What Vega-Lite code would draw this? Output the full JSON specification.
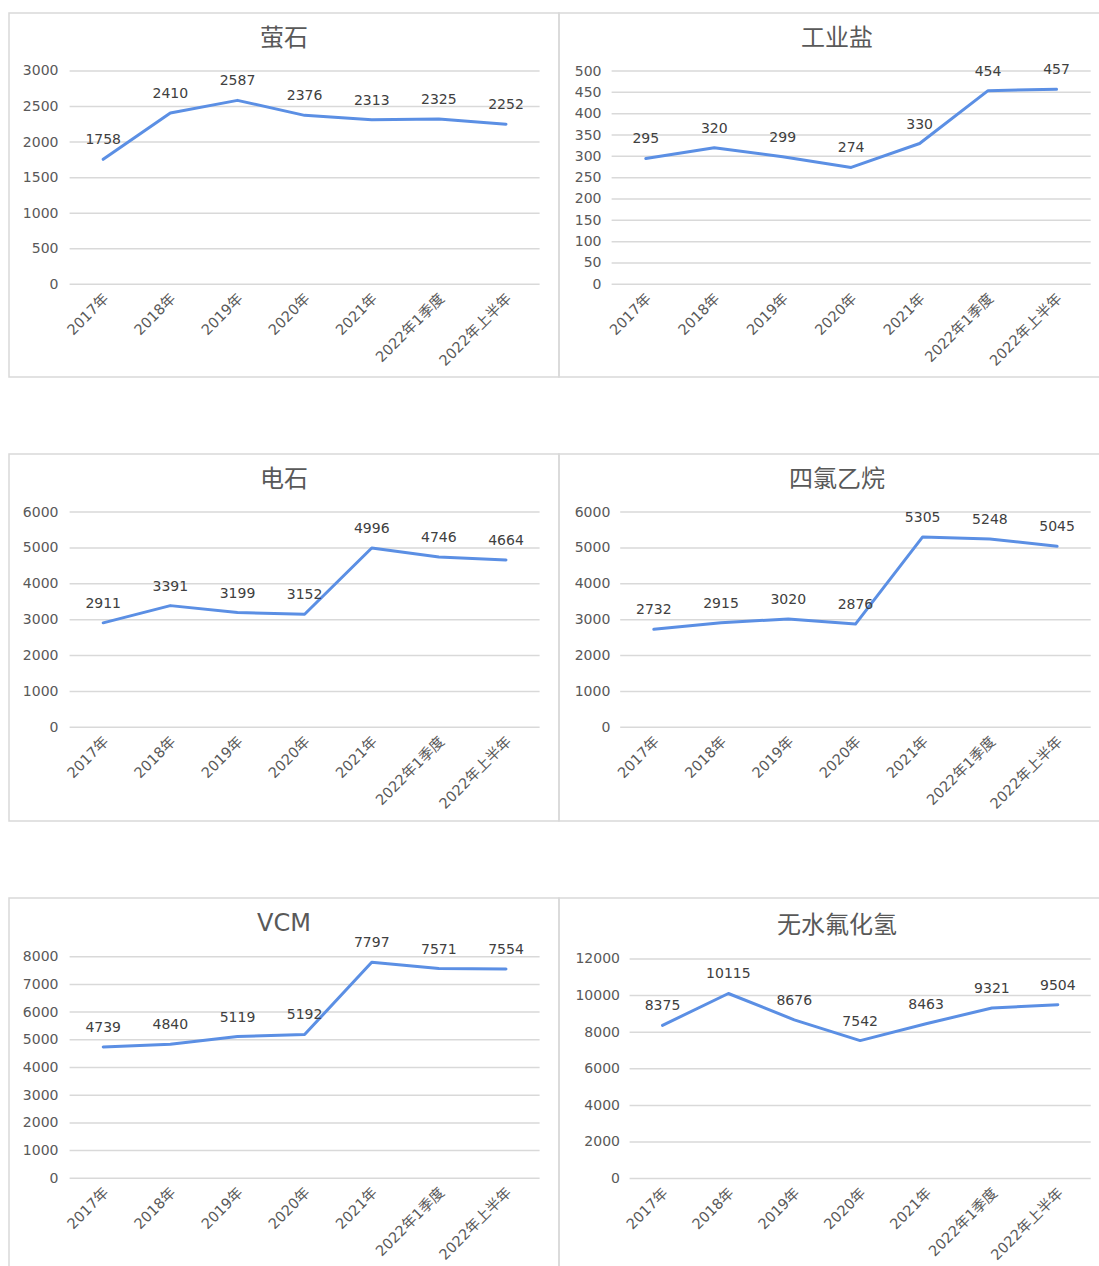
{
  "$schema": "https://vega.github.io/schema/vega-lite/v6.json",
  "background": "white",
  "padding": {"left": 8, "top": 12, "right": 0, "bottom": 0},
  "config": {
    "view": {"stroke": "#d9d9d9", "strokeWidth": 1.5},
    "font": "DejaVu Sans, Noto Sans CJK SC",
    "title": {"font": "DejaVu Sans, Noto Sans CJK SC", "fontSize": 24, "fontWeight": "normal", "color": "#595959", "anchor": "middle", "frame": "group", "offset": 0, "baseline": "middle"},
    "axis": {"labelFont": "DejaVu Sans, Noto Sans CJK SC", "labelFontSize": 14, "labelColor": "#595959", "ticks": false, "tickSize": 0, "domain": false, "grid": false, "labelPadding": 0, "labelOverlap": false, "labelBound": false, "labelFlush": false, "title": null},
    "axisX": {"labelAngle": -45, "labelAlign": "right", "labelBaseline": "top", "labelPadding": 7, "labelOffset": -2, "labelFontSize": 14.5},
    "axisY": {"labelAlign": "right", "labelBaseline": "middle", "format": "d"},
    "line": {"stroke": "#5B8FE4", "strokeWidth": 3, "strokeJoin": "round", "strokeCap": "round"},
    "text": {"font": "DejaVu Sans, Noto Sans CJK SC", "fontSize": 14, "fill": "#404040", "baseline": "middle", "align": "center"}
  },
  "datasets": {
    "series": [
      {"panel": "萤石", "period": "2017年", "value": 1758},
      {"panel": "萤石", "period": "2018年", "value": 2410},
      {"panel": "萤石", "period": "2019年", "value": 2587},
      {"panel": "萤石", "period": "2020年", "value": 2376},
      {"panel": "萤石", "period": "2021年", "value": 2313},
      {"panel": "萤石", "period": "2022年1季度", "value": 2325},
      {"panel": "萤石", "period": "2022年上半年", "value": 2252},
      {"panel": "工业盐", "period": "2017年", "value": 295},
      {"panel": "工业盐", "period": "2018年", "value": 320},
      {"panel": "工业盐", "period": "2019年", "value": 299},
      {"panel": "工业盐", "period": "2020年", "value": 274},
      {"panel": "工业盐", "period": "2021年", "value": 330},
      {"panel": "工业盐", "period": "2022年1季度", "value": 454},
      {"panel": "工业盐", "period": "2022年上半年", "value": 457},
      {"panel": "电石", "period": "2017年", "value": 2911},
      {"panel": "电石", "period": "2018年", "value": 3391},
      {"panel": "电石", "period": "2019年", "value": 3199},
      {"panel": "电石", "period": "2020年", "value": 3152},
      {"panel": "电石", "period": "2021年", "value": 4996},
      {"panel": "电石", "period": "2022年1季度", "value": 4746},
      {"panel": "电石", "period": "2022年上半年", "value": 4664},
      {"panel": "四氯乙烷", "period": "2017年", "value": 2732},
      {"panel": "四氯乙烷", "period": "2018年", "value": 2915},
      {"panel": "四氯乙烷", "period": "2019年", "value": 3020},
      {"panel": "四氯乙烷", "period": "2020年", "value": 2876},
      {"panel": "四氯乙烷", "period": "2021年", "value": 5305},
      {"panel": "四氯乙烷", "period": "2022年1季度", "value": 5248},
      {"panel": "四氯乙烷", "period": "2022年上半年", "value": 5045},
      {"panel": "VCM", "period": "2017年", "value": 4739},
      {"panel": "VCM", "period": "2018年", "value": 4840},
      {"panel": "VCM", "period": "2019年", "value": 5119},
      {"panel": "VCM", "period": "2020年", "value": 5192},
      {"panel": "VCM", "period": "2021年", "value": 7797},
      {"panel": "VCM", "period": "2022年1季度", "value": 7571},
      {"panel": "VCM", "period": "2022年上半年", "value": 7554},
      {"panel": "无水氟化氢", "period": "2017年", "value": 8375},
      {"panel": "无水氟化氢", "period": "2018年", "value": 10115},
      {"panel": "无水氟化氢", "period": "2019年", "value": 8676},
      {"panel": "无水氟化氢", "period": "2020年", "value": 7542},
      {"panel": "无水氟化氢", "period": "2021年", "value": 8463},
      {"panel": "无水氟化氢", "period": "2022年1季度", "value": 9321},
      {"panel": "无水氟化氢", "period": "2022年上半年", "value": 9504}
    ],
    "ticks": [
      {"panel": "萤石", "tick": 0}, {"panel": "萤石", "tick": 500}, {"panel": "萤石", "tick": 1000}, {"panel": "萤石", "tick": 1500}, {"panel": "萤石", "tick": 2000}, {"panel": "萤石", "tick": 2500}, {"panel": "萤石", "tick": 3000},
      {"panel": "工业盐", "tick": 0}, {"panel": "工业盐", "tick": 50}, {"panel": "工业盐", "tick": 100}, {"panel": "工业盐", "tick": 150}, {"panel": "工业盐", "tick": 200}, {"panel": "工业盐", "tick": 250}, {"panel": "工业盐", "tick": 300}, {"panel": "工业盐", "tick": 350}, {"panel": "工业盐", "tick": 400}, {"panel": "工业盐", "tick": 450}, {"panel": "工业盐", "tick": 500},
      {"panel": "电石", "tick": 0}, {"panel": "电石", "tick": 1000}, {"panel": "电石", "tick": 2000}, {"panel": "电石", "tick": 3000}, {"panel": "电石", "tick": 4000}, {"panel": "电石", "tick": 5000}, {"panel": "电石", "tick": 6000},
      {"panel": "四氯乙烷", "tick": 0}, {"panel": "四氯乙烷", "tick": 1000}, {"panel": "四氯乙烷", "tick": 2000}, {"panel": "四氯乙烷", "tick": 3000}, {"panel": "四氯乙烷", "tick": 4000}, {"panel": "四氯乙烷", "tick": 5000}, {"panel": "四氯乙烷", "tick": 6000},
      {"panel": "VCM", "tick": 0}, {"panel": "VCM", "tick": 1000}, {"panel": "VCM", "tick": 2000}, {"panel": "VCM", "tick": 3000}, {"panel": "VCM", "tick": 4000}, {"panel": "VCM", "tick": 5000}, {"panel": "VCM", "tick": 6000}, {"panel": "VCM", "tick": 7000}, {"panel": "VCM", "tick": 8000},
      {"panel": "无水氟化氢", "tick": 0}, {"panel": "无水氟化氢", "tick": 2000}, {"panel": "无水氟化氢", "tick": 4000}, {"panel": "无水氟化氢", "tick": 6000}, {"panel": "无水氟化氢", "tick": 8000}, {"panel": "无水氟化氢", "tick": 10000}, {"panel": "无水氟化氢", "tick": 12000}
    ]
  },
  "columns": 2,
  "spacing": {"row": 77, "column": 0},
  "bounds": "flush",
  "concat": [
    {
      "width": 550, "height": 364,
      "title": {"text": "萤石", "dy": 42},
      "layer": [
        {
          "data": {"name": "ticks"},
          "transform": [{"filter": "datum.panel === '萤石'"}],
          "mark": {"type": "rule", "stroke": "#d9d9d9", "strokeWidth": 1.5},
          "encoding": {
            "x": {"datum": 0, "type": "quantitative", "scale": {"domain": [-0.12894, 1.04128], "nice": false, "zero": false}, "axis": null},
            "x2": {"datum": 1},
            "y": {"field": "tick", "type": "quantitative", "title": null, "scale": {"domain": [-1303.8, 3815.7], "nice": false, "zero": false}, "axis": {"values": [0, 500, 1000, 1500, 2000, 2500, 3000], "offset": -49}}
          }
        },
        {
          "data": {"name": "series"},
          "transform": [{"filter": "datum.panel === '萤石'"}],
          "encoding": {
            "x": {"field": "period", "type": "ordinal", "sort": null, "title": null, "scale": {"type": "point", "padding": 0, "range": [94.2, 497.0]}, "axis": {"offset": -92.7}},
            "y": {"field": "value", "type": "quantitative", "title": null, "scale": {"domain": [-1303.8, 3815.7], "nice": false, "zero": false}, "axis": {"values": [0, 500, 1000, 1500, 2000, 2500, 3000], "offset": -49}}
          },
          "layer": [
            {"mark": {"type": "line"}},
            {"mark": {"type": "text", "dy": -19}, "encoding": {"text": {"field": "value", "type": "quantitative", "format": "d"}}}
          ]
        }
      ],
      "resolve": {"scale": {"x": "independent"}}
    },
    {
      "width": 541, "height": 364,
      "title": {"text": "工业盐", "dy": 42, "dx": 7.5},
      "layer": [
        {
          "data": {"name": "ticks"},
          "transform": [{"filter": "datum.panel === '工业盐'"}],
          "mark": {"type": "rule", "stroke": "#d9d9d9", "strokeWidth": 1.5},
          "encoding": {
            "x": {"datum": 0, "type": "quantitative", "scale": {"domain": [-0.10979, 1.01941], "nice": false, "zero": false}, "axis": null},
            "x2": {"datum": 1},
            "y": {"field": "tick", "type": "quantitative", "title": null, "scale": {"domain": [-217.3, 636.0], "nice": false, "zero": false}, "axis": {"values": [0, 50, 100, 150, 200, 250, 300, 350, 400, 450, 500], "offset": -42}}
          }
        },
        {
          "data": {"name": "series"},
          "transform": [{"filter": "datum.panel === '工业盐'"}],
          "encoding": {
            "x": {"field": "period", "type": "ordinal", "sort": null, "title": null, "scale": {"type": "point", "padding": 0, "range": [86.8, 497.5]}, "axis": {"offset": -92.7}},
            "y": {"field": "value", "type": "quantitative", "title": null, "scale": {"domain": [-217.3, 636.0], "nice": false, "zero": false}, "axis": {"values": [0, 50, 100, 150, 200, 250, 300, 350, 400, 450, 500], "offset": -42}}
          },
          "layer": [
            {"mark": {"type": "line"}},
            {"mark": {"type": "text", "dy": -19}, "encoding": {"text": {"field": "value", "type": "quantitative", "format": "d"}}}
          ]
        }
      ],
      "resolve": {"scale": {"x": "independent"}}
    },
    {
      "width": 550, "height": 367,
      "title": {"text": "电石", "dy": 42},
      "layer": [
        {
          "data": {"name": "ticks"},
          "transform": [{"filter": "datum.panel === '电石'"}],
          "mark": {"type": "rule", "stroke": "#d9d9d9", "strokeWidth": 1.5},
          "encoding": {
            "x": {"datum": 0, "type": "quantitative", "scale": {"domain": [-0.12894, 1.04128], "nice": false, "zero": false}, "axis": null},
            "x2": {"datum": 1},
            "y": {"field": "tick", "type": "quantitative", "title": null, "scale": {"domain": [-2611.2, 7616.4], "nice": false, "zero": false}, "axis": {"values": [0, 1000, 2000, 3000, 4000, 5000, 6000], "offset": -49}}
          }
        },
        {
          "data": {"name": "series"},
          "transform": [{"filter": "datum.panel === '电石'"}],
          "encoding": {
            "x": {"field": "period", "type": "ordinal", "sort": null, "title": null, "scale": {"type": "point", "padding": 0, "range": [94.2, 497.0]}, "axis": {"offset": -93.7}},
            "y": {"field": "value", "type": "quantitative", "title": null, "scale": {"domain": [-2611.2, 7616.4], "nice": false, "zero": false}, "axis": {"values": [0, 1000, 2000, 3000, 4000, 5000, 6000], "offset": -49}}
          },
          "layer": [
            {"mark": {"type": "line"}},
            {"mark": {"type": "text", "dy": -19}, "encoding": {"text": {"field": "value", "type": "quantitative", "format": "d"}}}
          ]
        }
      ],
      "resolve": {"scale": {"x": "independent"}}
    },
    {
      "width": 541, "height": 367,
      "title": {"text": "四氯乙烷", "dy": 42, "dx": 7.5},
      "layer": [
        {
          "data": {"name": "ticks"},
          "transform": [{"filter": "datum.panel === '四氯乙烷'"}],
          "mark": {"type": "rule", "stroke": "#d9d9d9", "strokeWidth": 1.5},
          "encoding": {
            "x": {"datum": 0, "type": "quantitative", "scale": {"domain": [-0.13007, 1.01977], "nice": false, "zero": false}, "axis": null},
            "x2": {"datum": 1},
            "y": {"field": "tick", "type": "quantitative", "title": null, "scale": {"domain": [-2611.2, 7616.4], "nice": false, "zero": false}, "axis": {"values": [0, 1000, 2000, 3000, 4000, 5000, 6000], "offset": -50.8}}
          }
        },
        {
          "data": {"name": "series"},
          "transform": [{"filter": "datum.panel === '四氯乙烷'"}],
          "encoding": {
            "x": {"field": "period", "type": "ordinal", "sort": null, "title": null, "scale": {"type": "point", "padding": 0, "range": [94.8, 498.1]}, "axis": {"offset": -93.7}},
            "y": {"field": "value", "type": "quantitative", "title": null, "scale": {"domain": [-2611.2, 7616.4], "nice": false, "zero": false}, "axis": {"values": [0, 1000, 2000, 3000, 4000, 5000, 6000], "offset": -50.8}}
          },
          "layer": [
            {"mark": {"type": "line"}},
            {"mark": {"type": "text", "dy": -19}, "encoding": {"text": {"field": "value", "type": "quantitative", "format": "d"}}}
          ]
        }
      ],
      "resolve": {"scale": {"x": "independent"}}
    },
    {
      "width": 550, "height": 369,
      "title": {"text": "VCM", "dy": 42},
      "layer": [
        {
          "data": {"name": "ticks"},
          "transform": [{"filter": "datum.panel === 'VCM'"}],
          "mark": {"type": "rule", "stroke": "#d9d9d9", "strokeWidth": 1.5},
          "encoding": {
            "x": {"datum": 0, "type": "quantitative", "scale": {"domain": [-0.12894, 1.04128], "nice": false, "zero": false}, "axis": null},
            "x2": {"datum": 1},
            "y": {"field": "tick", "type": "quantitative", "title": null, "scale": {"domain": [-3202.2, 10119.1], "nice": false, "zero": false}, "axis": {"values": [0, 1000, 2000, 3000, 4000, 5000, 6000, 7000, 8000], "offset": -49}}
          }
        },
        {
          "data": {"name": "series"},
          "transform": [{"filter": "datum.panel === 'VCM'"}],
          "encoding": {
            "x": {"field": "period", "type": "ordinal", "sort": null, "title": null, "scale": {"type": "point", "padding": 0, "range": [94.2, 497.0]}, "axis": {"offset": -88.7}},
            "y": {"field": "value", "type": "quantitative", "title": null, "scale": {"domain": [-3202.2, 10119.1], "nice": false, "zero": false}, "axis": {"values": [0, 1000, 2000, 3000, 4000, 5000, 6000, 7000, 8000], "offset": -49}}
          },
          "layer": [
            {"mark": {"type": "line"}},
            {"mark": {"type": "text", "dy": -19}, "encoding": {"text": {"field": "value", "type": "quantitative", "format": "d"}}}
          ]
        }
      ],
      "resolve": {"scale": {"x": "independent"}}
    },
    {
      "width": 541, "height": 369,
      "title": {"text": "无水氟化氢", "dy": 44, "dx": 7.5},
      "layer": [
        {
          "data": {"name": "ticks"},
          "transform": [{"filter": "datum.panel === '无水氟化氢'"}],
          "mark": {"type": "rule", "stroke": "#d9d9d9", "strokeWidth": 1.5},
          "encoding": {
            "x": {"datum": 0, "type": "quantitative", "scale": {"domain": [-0.15311, 1.02017], "nice": false, "zero": false}, "axis": null},
            "x2": {"datum": 1},
            "y": {"field": "tick", "type": "quantitative", "title": null, "scale": {"domain": [-4830.6, 15333.3], "nice": false, "zero": false}, "axis": {"values": [0, 2000, 4000, 6000, 8000, 10000, 12000], "offset": -60.5}}
          }
        },
        {
          "data": {"name": "series"},
          "transform": [{"filter": "datum.panel === '无水氟化氢'"}],
          "encoding": {
            "x": {"field": "period", "type": "ordinal", "sort": null, "title": null, "scale": {"type": "point", "padding": 0, "range": [103.5, 498.8]}, "axis": {"offset": -88.4}},
            "y": {"field": "value", "type": "quantitative", "title": null, "scale": {"domain": [-4830.6, 15333.3], "nice": false, "zero": false}, "axis": {"values": [0, 2000, 4000, 6000, 8000, 10000, 12000], "offset": -60.5}}
          },
          "layer": [
            {"mark": {"type": "line"}},
            {"mark": {"type": "text", "dy": -19}, "encoding": {"text": {"field": "value", "type": "quantitative", "format": "d"}}}
          ]
        }
      ],
      "resolve": {"scale": {"x": "independent"}}
    }
  ]
}
